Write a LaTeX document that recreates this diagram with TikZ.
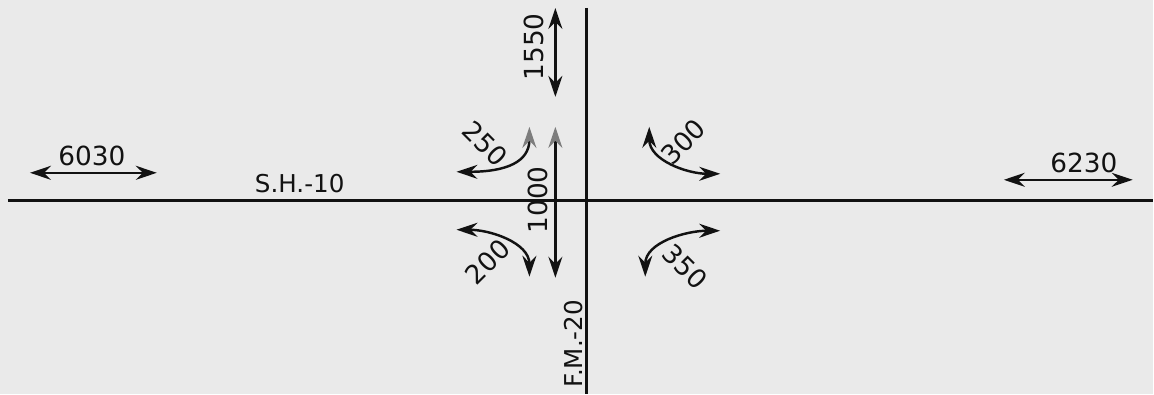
\documentclass[tikz,border=0pt]{standalone}
\usepackage{fontspec}
\setmainfont{DejaVu Sans}
\usepackage{tikz}
\usetikzlibrary{arrows.meta}
\definecolor{paper}{RGB}{234, 234, 234}
\definecolor{ink}{RGB}{18, 18, 18}
\definecolor{faded}{RGB}{125, 125, 125}

\begin{document}
\begin{tikzpicture}[
   x=0.02cm, y=-0.02cm,
   road/.style={draw=ink, line width=1.5},
   flow/.style={draw=ink, line width=1.4,
                {Stealth[length=4.2mm, width=2.8mm, inset=1.4mm]}-{Stealth[length=4.2mm, width=2.8mm, inset=1.4mm]}},
   fadedflow/.style={draw=ink, line width=1.4,
                {Stealth[length=4.2mm, width=2.8mm, inset=1.4mm]}-{Stealth[length=4.2mm, width=2.8mm, inset=1.4mm, color=faded]}},
   vol/.style={text=ink, inner sep=0, font=\fontsize{15}{17}\selectfont},
   roadname/.style={text=ink, inner sep=0, font=\fontsize{14}{16}\selectfont}
  ]

  % Paper
  \fill[paper] (0, 0) rectangle (1154, 394);

  % Roads
  \coordinate (RW) at (8, 201);
  \coordinate (RE) at (1154, 201);
  \coordinate (RN) at (587, 8);
  \coordinate (RS) at (587, 394);
  \draw[road] (RW) -- (RE);
  \draw[road] (RN) -- (RS);

  \node (SH) at (300, 184) [roadname] {S.H.-10};
  \node (FM) at (574, 344) [roadname, rotate=90] {F.M.-20};

  % Through movements
  \coordinate (W1) at (30, 173);
  \coordinate (W2) at (157, 173);
  \coordinate (E1) at (1005, 180);
  \coordinate (E2) at (1134, 180);
  \coordinate (N1) at (556, 8);
  \coordinate (N2) at (556, 97);
  \coordinate (S1) at (556, 278);
  \coordinate (S2) at (556, 127);

  \foreach \B/\E in {W1/W2, E1/E2, N1/N2} {
    \draw[flow] (\B) -- (\E);
  }
  \draw[fadedflow] (S1) -- (S2);

  \node (V6030) at (92, 156) [vol] {6030};
  \node (V6230) at (1085, 163) [vol] {6230};
  \node (V1550) at (535, 47) [vol, rotate=90] {1550};
  \node (V1000) at (539, 200) [vol, rotate=90] {1000};

  % Turning movements
  \coordinate (A1) at (457, 172);
  \coordinate (A2) at (530, 127);
  \coordinate (B1) at (650, 127);
  \coordinate (B2) at (721, 174);
  \coordinate (C1) at (457, 230);
  \coordinate (C2) at (530, 277);
  \coordinate (D1) at (721, 231);
  \coordinate (D2) at (646, 277);

  \draw[fadedflow] (A1) .. controls +(50, 0) and +(0, 35) .. (A2);
  \foreach \B/\E/\O/\I in {B1/B2/-90/180, C1/C2/0/90, D1/D2/180/90} {
    \draw[flow] (\B) to[out=\O, in=\I] (\E);
  }

  \node (V250) at (486, 144) [vol, rotate=-45] {250};
  \node (V300) at (684, 142) [vol, rotate=45] {300};
  \node (V200) at (488, 262) [vol, rotate=45] {200};
  \node (V350) at (686, 267) [vol, rotate=-45] {350};

\end{tikzpicture}
\end{document}
